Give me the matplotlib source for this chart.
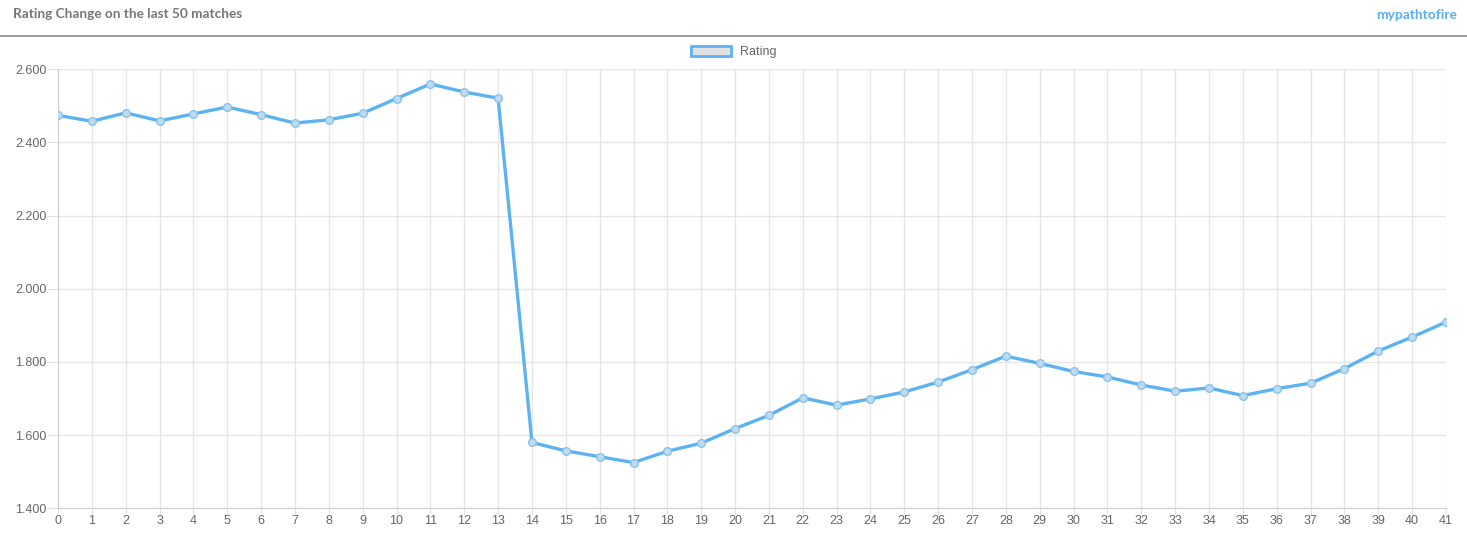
import matplotlib.pyplot as plt
from matplotlib.patches import Patch
from matplotlib.ticker import FuncFormatter, MultipleLocator

# match index and rating after each match
matches = list(range(42))
rating = [2474, 2458, 2481, 2459, 2478, 2497, 2476, 2453, 2462, 2480,
          2520, 2560, 2538, 2521, 1580, 1557, 1541, 1525, 1556, 1578,
          1618, 1654, 1702, 1682, 1699, 1718, 1745, 1779, 1816, 1796,
          1774, 1759, 1737, 1720, 1729, 1708, 1727, 1742, 1782, 1830,
          1868, 1909]

title = "Rating Change on the last 50 matches"
brand = "mypathtofire"
series_name = "Rating"

W, H = 1467, 536
fig = plt.figure(figsize=(W / 100, H / 100), dpi=100)

# plot area in pixels: left 58, right 1446, top 69, bottom 508
ax = fig.add_axes([58 / W, (H - 508.3) / H, (1446 - 58) / W, (508.3 - 69.3) / H])

ax.plot(matches, rating, color="#5db3f1", linewidth=2.4,
        marker="o", markersize=5.5, markerfacecolor="#bcdcf3",
        markeredgecolor="#8cc1ea", markeredgewidth=1.0, zorder=3)

ax.set_xlim(0, 41)
ax.set_ylim(1400, 2600)
ax.set_xticks(matches)
ax.yaxis.set_major_locator(MultipleLocator(200))
ax.yaxis.set_major_formatter(FuncFormatter(lambda v, p: f"{int(v):,}".replace(",", ".")))

ax.grid(True, color="#e6e6e6", linewidth=1)
ax.set_axisbelow(True)
for side in ["top", "right"]:
    ax.spines[side].set_visible(False)
for side in ["left", "bottom"]:
    ax.spines[side].set_color("#cfcfcf")
ax.tick_params(axis="y", length=8, color="#e0e0e0", labelsize=9, labelcolor="#666666", pad=0.5)
ax.tick_params(axis="x", length=4, color="#e0e0e0", labelsize=9, labelcolor="#666666", pad=1)
for lbl in ax.get_xticklabels() + ax.get_yticklabels():
    lbl.set_family("Liberation Sans")

# header
fig.text(13 / W, 1 - 14 / H, title, family="Lato", weight="bold", fontsize=9.8,
         color="#777777", va="center", ha="left")
fig.text(1457 / W, 1 - 15 / H, brand, family="Lato", weight="bold", fontsize=9.9,
         color="#5aaef0", va="center", ha="right")
fig.add_artist(plt.Line2D([0, 1], [1 - 36 / H, 1 - 36 / H], color="#8a8a8a", linewidth=1.2))

handle = Patch(facecolor="#e2e2e2", edgecolor="#5db3f1", linewidth=2)
leg = fig.legend([handle], [series_name], loc="center", bbox_to_anchor=(0.5, 1 - 52 / H),
                 frameon=False, handlelength=3.2, handleheight=0.9, handletextpad=0.7,
                 prop={"family": "Liberation Sans", "size": 9})
for t in leg.get_texts():
    t.set_color("#666666")

fig.savefig("out.png", dpi=100)
